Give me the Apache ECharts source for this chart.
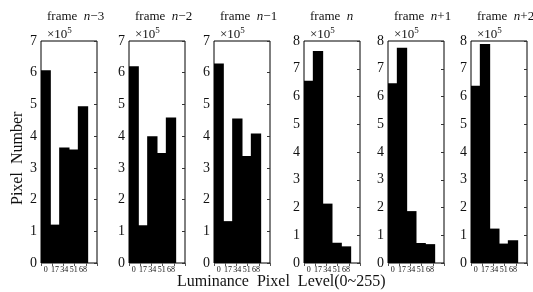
<!DOCTYPE html>
<html>
<head>
<meta charset="utf-8">
<script src="https://cdn.jsdelivr.net/npm/echarts@6/dist/echarts.min.js"></script>
<style>
  html, body { margin: 0; padding: 0; background: #fff; }
  #chart { width: 533px; height: 292px; }
</style>
</head>
<body>
<div id="chart"></div>
<script>
// bins of the luminance histogram (last slot is empty space)
const binLabels = ['0', '17', '34', '51', '68', ''];
const frameNames = ['−3', '−2', '−1', '', '+1', '+2'];
// pixel counts, units of 10^5
const frameN3 = [6.08, 1.21, 3.64, 3.58, 4.94];
const frameN2 = [6.20, 1.19, 4.00, 3.47, 4.59];
const frameN1 = [6.29, 1.32, 4.56, 3.37, 4.08];
const frameN0 = [6.57, 7.64, 2.14, 0.73, 0.60];
const frameP1 = [6.48, 7.76, 1.87, 0.72, 0.68];
const frameP2 = [6.39, 7.89, 1.24, 0.70, 0.82];
const yMax = [7, 7, 7, 8, 8, 8];

const frames = [frameN3, frameN2, frameN1, frameN0, frameP1, frameP2];
const lefts = [41, 129, 214, 304, 388, 471];
const W = 56, TOP = 41, H = 222;
const serif = 'Liberation Serif';

let chart = echarts.init(document.getElementById('chart'));
let grid = [], xAxis = [], yAxis = [], series = [], title = [];

frames.forEach((vals, i) => {
    grid.push({
        left: lefts[i], top: TOP, width: W, height: H,
        show: true, borderColor: '#000', borderWidth: 1, backgroundColor: '#fff'
    });
    // bottom category axis
    xAxis.push({
        type: 'category', gridIndex: i, data: binLabels,
        axisLine: { show: false }, axisTick: { show: false }, splitLine: { show: false },
        axisLabel: { interval: 0, fontFamily: serif, fontSize: 8, color: '#111', margin: 3 }
    });
    // top axis, only for the small inner ticks
    xAxis.push({
        type: 'value', gridIndex: i, position: 'top', min: 0, max: 100, interval: 20,
        axisLine: { show: false }, axisLabel: { show: false }, splitLine: { show: false },
        axisTick: { show: true, inside: true, length: 3, lineStyle: { color: '#555' } }
    });
    yAxis.push({
        type: 'value', gridIndex: i, min: 0, max: yMax[i], interval: 1,
        axisLine: { show: false }, axisTick: { show: false }, splitLine: { show: false },
        axisLabel: { fontFamily: serif, fontSize: 14, color: '#111', margin: 4 }
    });
    // right axis, inner ticks
    yAxis.push({
        type: 'value', gridIndex: i, position: 'right', min: 0, max: yMax[i], interval: 1,
        axisLine: { show: false }, axisLabel: { show: false }, splitLine: { show: false },
        axisTick: { show: true, inside: true, length: 3, lineStyle: { color: '#333' } }
    });
    series.push({
        type: 'bar', xAxisIndex: i * 2, yAxisIndex: i * 2,
        data: vals, barWidth: W / 6 + 1, silent: true,
        itemStyle: { color: '#000', borderWidth: 0 }
    });
    title.push({
        text: '{a|frame  }{b|n}{a|' + frameNames[i] + '}',
        left: lefts[i] + 1, top: 5,
        textStyle: {
            rich: {
                a: { fontFamily: serif, fontSize: 13, fontWeight: 'normal', color: '#111' },
                b: { fontFamily: serif, fontSize: 13, fontWeight: 'normal', fontStyle: 'italic', color: '#111' }
            }
        }
    });
    title.push({
        text: '{a|×10}{s|5}',
        left: lefts[i] + 1, top: 21,
        textStyle: {
            rich: {
                a: { fontFamily: serif, fontSize: 13, fontWeight: 'normal', color: '#111' },
                s: { fontFamily: serif, fontSize: 9, fontWeight: 'normal', color: '#111', padding: [0, 0, 8, 0] }
            }
        }
    });
});

let option = {
    backgroundColor: '#fff',
    animation: false,
    title: title,
    grid: grid,
    xAxis: xAxis,
    yAxis: yAxis,
    series: series,
    graphic: [
        {
            type: 'text', rotation: Math.PI / 2, x: 10, y: 205,
            style: { text: 'Pixel  Number', font: '16px "Liberation Serif"', fill: '#111' }
        },
        {
            type: 'text', left: 177, top: 274,
            style: { text: 'Luminance  Pixel  Level(0~255)', font: '16px "Liberation Serif"', fill: '#111' }
        }
    ]
};
option && chart.setOption(option);
</script>
</body>
</html>
